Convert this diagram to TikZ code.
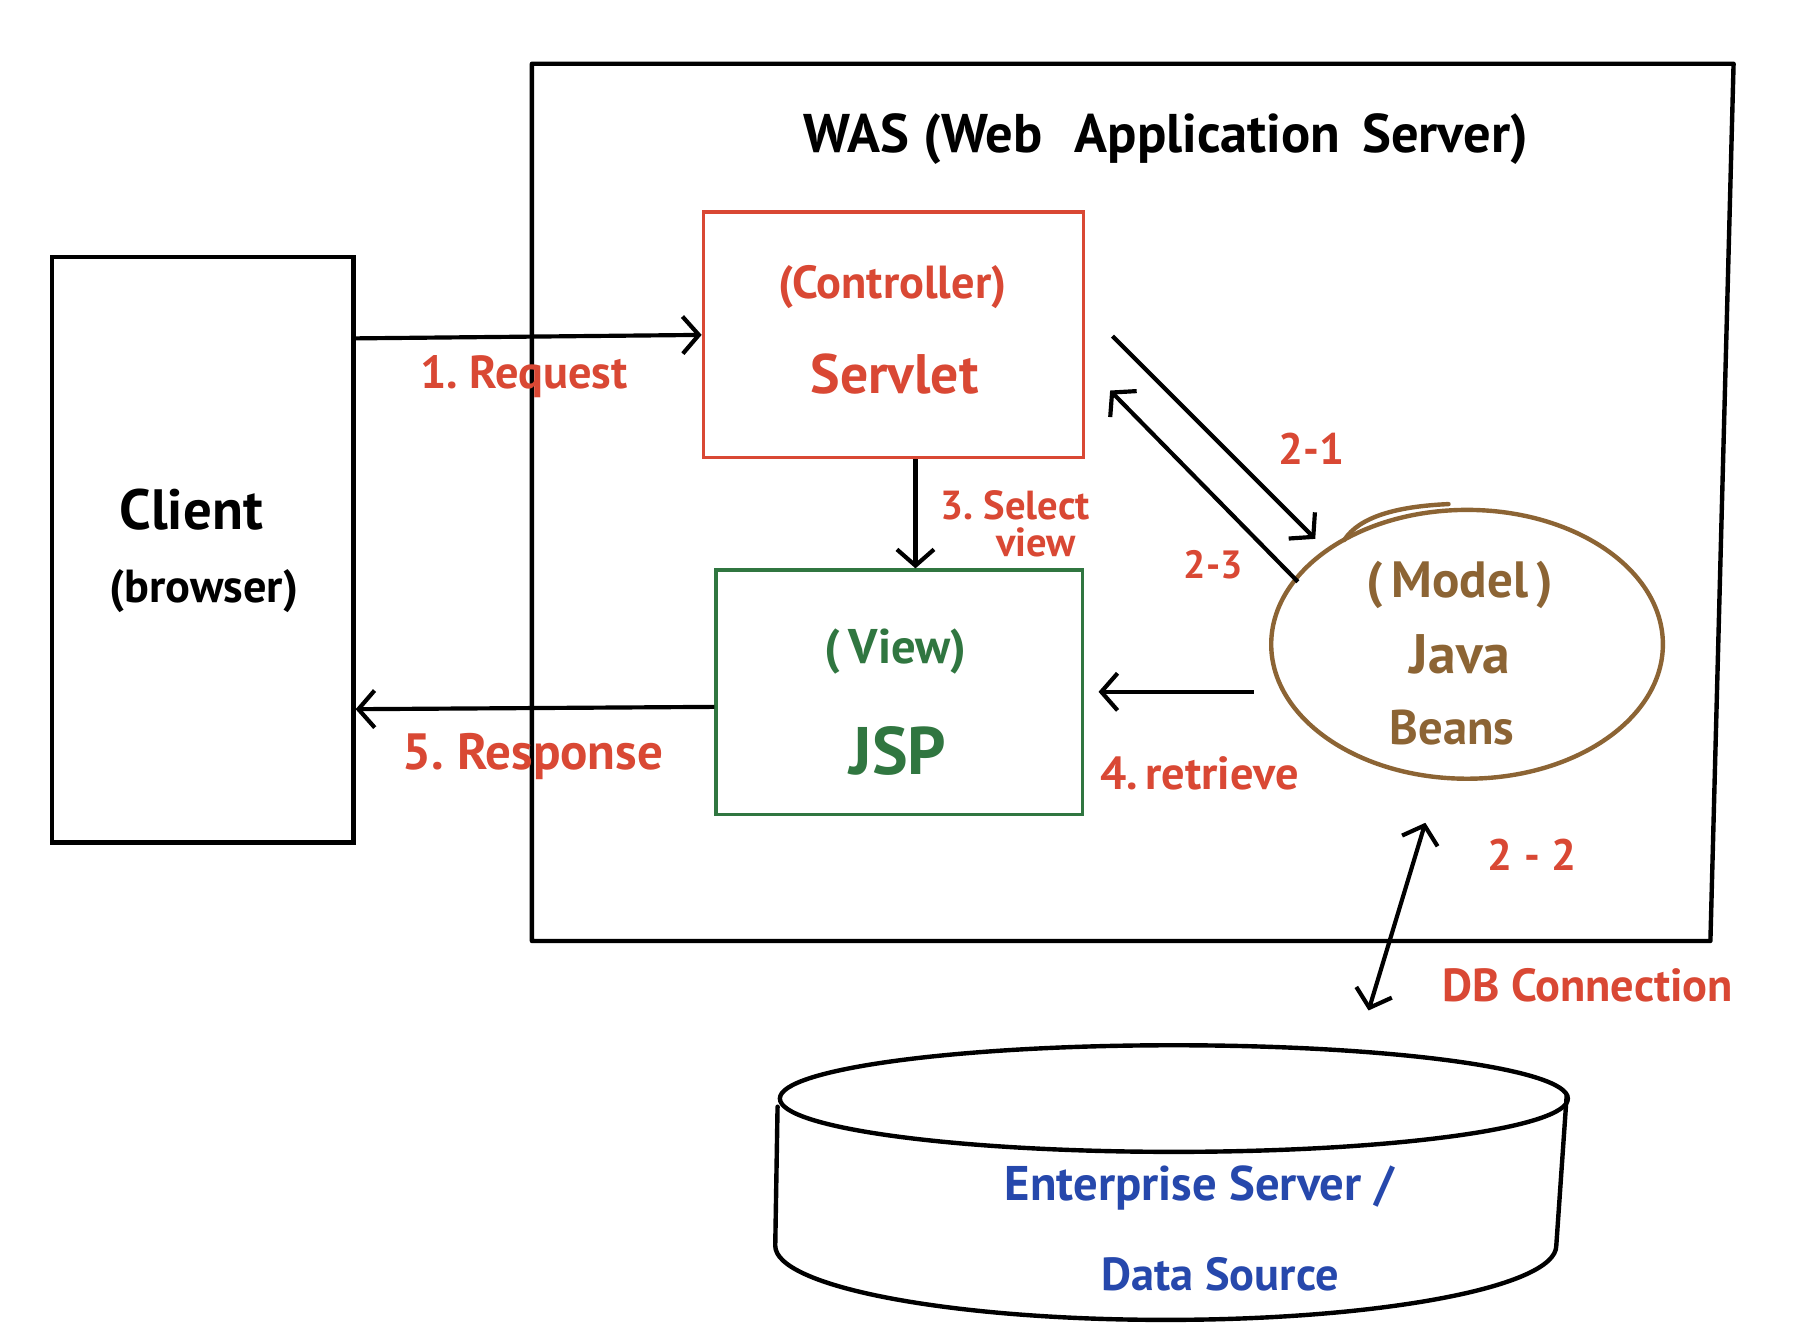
\documentclass[tikz,border=0pt]{standalone}
\usepackage{fontspec}
\setmainfont{PT Sans}
\usetikzlibrary{arrows.meta,shapes.geometric}
\definecolor{cred}{RGB}{217,72,52}
\definecolor{cgreen}{RGB}{48,118,64}
\definecolor{cbrown}{RGB}{140,100,52}
\definecolor{cblue}{RGB}{38,72,172}
\tikzset{
  blk/.style={draw=black, line width=3.8pt},
  conn/.style={line width=3.6pt, -{Straight Barb[length=14pt,width=32pt,line width=3.6pt]}},
  dconn/.style={line width=3.6pt, {Straight Barb[length=14pt,width=32pt,line width=3.6pt]}-{Straight Barb[length=14pt,width=32pt,line width=3.6pt]}},
  lbl/.style={text=cred, inner sep=0pt},
  fs/.style={font=\bfseries\fontsize{#1}{#1}\selectfont},
}
\begin{document}
\begin{tikzpicture}[x=1pt,y=-1pt]
\useasboundingbox (0,0) rectangle (1568,1144);
\fill[white] (0,0) rectangle (1568,1144);
% WAS box
\draw[blk, line join=round] (459,55) -- (1496,55) -- (1476,812) -- (459,812) -- cycle;
\node[fs=47, inner sep=0pt] (title) at (1006,120) {WAS (Web\hspace{0.6em}Application\hspace{0.4em}Server)};
% Client
\node[blk, rectangle, minimum width=260pt, minimum height=505pt, inner sep=0pt] (client) at (175,474.5) {};
\node[fs=49, inner sep=0pt] (clienttxt) at (165,440) {Client};
\node[fs=40, inner sep=0pt] (browsertxt) at (176,510) {(browser)};
% Servlet
\node[draw=cred, line width=3pt, rectangle, minimum width=328pt, minimum height=212pt, inner sep=0pt] (servlet) at (771,289) {};
\node[text=cred, fs=40, inner sep=0pt] (ctrltxt) at (770,248) {(Controller)};
\node[text=cred, fs=48, inner sep=0pt] (servlettxt) at (772,323) {Servlet};
% JSP
\node[draw=cgreen, line width=3pt, rectangle, minimum width=316pt, minimum height=211pt, inner sep=0pt] (jsp) at (776,597.5) {};
\node[text=cgreen, fs=42, inner sep=0pt] (viewtxt) at (773,562) {(\,View)};
\node[text=cgreen, fs=58, inner sep=0pt] (jsptxt) at (775,648) {JSP};
% Model
\node[draw=cbrown, line width=3.8pt, ellipse, minimum width=338pt, minimum height=232pt, inner sep=0pt] (model) at (1266,556) {};
\draw[cbrown, line width=3.8pt, line cap=round] (1160,466) .. controls (1173,446) and (1205,437) .. (1250,435);
\node[text=cbrown, fs=44, inner sep=0pt] (modeltxt) at (1260,505) {(\,Model\,)};
\node[text=cbrown, fs=48, inner sep=0pt] (javatxt) at (1260,565) {Java};
\node[text=cbrown, fs=42, inner sep=0pt] (beanstxt) at (1253,628) {Beans};
% Database cylinder
\draw[blk] (1013,948) ellipse [x radius=340, y radius=46];
\draw[blk, line cap=round] (671,955) -- (669,1075) arc[start angle=180, end angle=0, x radius=337, y radius=64] -- (1352,945);
\node[text=cblue, fs=42, inner sep=0pt] (dbtxt1) at (1035,1025) {Enterprise Server /};
\node[text=cblue, fs=40, inner sep=0pt] (dbtxt2) at (1053,1100) {Data Source};
% free connector ends
\coordinate (a21s) at (960,290);
\coordinate (a21e) at (1135,465);
\coordinate (a23s) at (1120,502);
\coordinate (a23e) at (958,337);
\coordinate (a4s) at (1082,597);
\coordinate (a4e) at (948,597);
\coordinate (a22s) at (1230,710);
\coordinate (a22e) at (1181,872);
% connectors
\draw[conn] (client.east |- 0,292) -- (servlet.west |- 0,289);
\draw[conn] (servlet.south -| 790,0) -- (jsp.north -| 790,0);
\draw[conn] (a21s) -- (a21e);
\draw[conn] (a23s) -- (a23e);
\draw[conn] (a4s) -- (a4e);
\draw[conn] (jsp.west |- 0,610) -- (client.east |- 0,612);
\draw[dconn] (a22s) -- (a22e);
% labels
\node[lbl, fs=40] (l1) at (452,325) {1.\ Request};
\node[lbl, fs=35] (l3a) at (876,436) {3.\ Select};
\node[lbl, fs=35] (l3b) at (894,468) {view};
\node[lbl, fs=38] (l21) at (1132,387) {2-1};
\node[lbl, fs=34] (l23) at (1047,487) {2-3};
\node[lbl, fs=40] (l4) at (1035,667) {4.\,retrieve};
\node[lbl, fs=44] (l5) at (460,653) {5.\ Response};
\node[lbl, fs=38] (l22) at (1322,738) {2 - 2};
\node[lbl, fs=40] (ldb) at (1370,850) {DB Connection};
\end{tikzpicture}
\end{document}
